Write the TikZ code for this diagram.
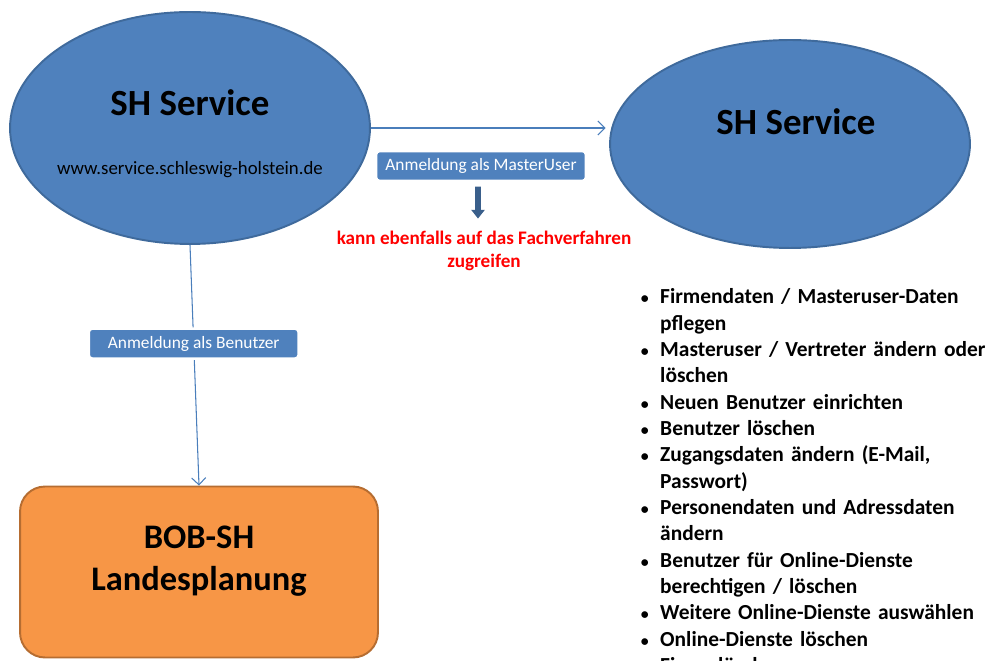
\documentclass[tikz,border=0pt]{standalone}
\usepackage{fontspec}
\setmainfont{Carlito}
\usepackage{enumitem}
\usetikzlibrary{positioning,calc}
\usetikzlibrary{arrows.meta}
\usetikzlibrary{shapes.geometric}

\definecolor{shblue}{HTML}{4F81BD}
\definecolor{shborder}{HTML}{3F6A9C}
\definecolor{boborange}{HTML}{F79646}
\definecolor{bobborder}{HTML}{B66D31}
\definecolor{linkblue}{HTML}{4A7EBB}
\definecolor{darkarrow}{HTML}{3A5F8B}

\tikzset{
  service/.style={ellipse, draw=shborder, fill=shblue, line width=1.1pt, inner sep=0pt},
  titletext/.style={font=\fontsize{21}{24}\selectfont\bfseries, align=center, inner sep=0pt},
  tag/.style={rounded corners=2pt, fill=shblue, draw=white, line width=1.5pt, text=white,
    font=\fontsize{9.9}{11}\selectfont, minimum width=4.2cm, minimum height=0.6cm, inner sep=0pt},
  link/.style={draw=linkblue, line width=0.6pt, -{Straight Barb[length=4pt,width=8pt]}},
}

\begin{document}
\begin{tikzpicture}[x=0.02cm, y=-0.02cm]
  \useasboundingbox (0,0) rectangle (986,661);

  % the two services
  \node[service, minimum width=7.2cm, minimum height=4.64cm] at (190,128) (sh_1) {};
  \node[titletext] at (190,103) {SH Service};
  \node[font=\fontsize{10.7}{12}\selectfont, inner sep=0pt] at (190,170) {www.service.schleswig-holstein.de};

  \node[service, minimum width=7.2cm, minimum height=4.16cm] at (790,144) (sh_2) {};
  \node[titletext] at (796,122) {SH Service};

  % the procedure
  \node[draw=bobborder, fill=boborange, line width=1.1pt, rounded corners=0.5cm,
        minimum width=7.16cm, minimum height=3.42cm] at (199,572) (bob) {};
  \node[titletext, font=\fontsize{19.6}{23.8}\selectfont\bfseries] at (199,561) {BOB-SH\\Landesplanung};

  % MasterUser login
  \draw[link, shorten >=2pt] (sh_1.east) -- (sh_1.east -| sh_2.west);
  \node[tag] at (481,166) (master) {Anmeldung als MasterUser};
  \node[text=red, font=\fontsize{10.9}{13}\selectfont\bfseries, align=center, inner sep=0pt]
        at (484,251) (note) {kann ebenfalls auf das Fachverfahren\\zugreifen};
  \draw[darkarrow, line width=3.4pt, -{Triangle[length=5pt,width=7.5pt]},
        shorten <=2.5pt, shorten >=7pt] ([xshift=-0.06cm]master.south) -- ([xshift=-0.12cm]note.north);

  % user login
  \draw[link] (sh_1.south) -- node[tag, pos=0.41] {Anmeldung als Benutzer} (bob.north);

  % what the MasterUser may do
  \node[anchor=north west, inner sep=0pt, text width=10cm, align=left,
        font=\fontsize{12.2}{15}\selectfont\bfseries] at (630,277) (tasks) {%
    \begin{itemize}[nosep, leftmargin=17pt, labelsep=6.5pt, label={\small\textbullet}]
      \raggedright
      \item Firmendaten / Masteruser-Daten\newline pflegen
      \item Masteruser / Vertreter ändern oder\newline löschen
      \item Neuen Benutzer einrichten
      \item Benutzer löschen
      \item Zugangsdaten ändern (E-Mail,\newline Passwort)
      \item Personendaten und Adressdaten\newline ändern
      \item Benutzer für Online-Dienste\newline berechtigen / löschen
      \item Weitere Online-Dienste auswählen
      \item Online-Dienste löschen
      \item Firma löschen
    \end{itemize}};

\end{tikzpicture}
\end{document}
